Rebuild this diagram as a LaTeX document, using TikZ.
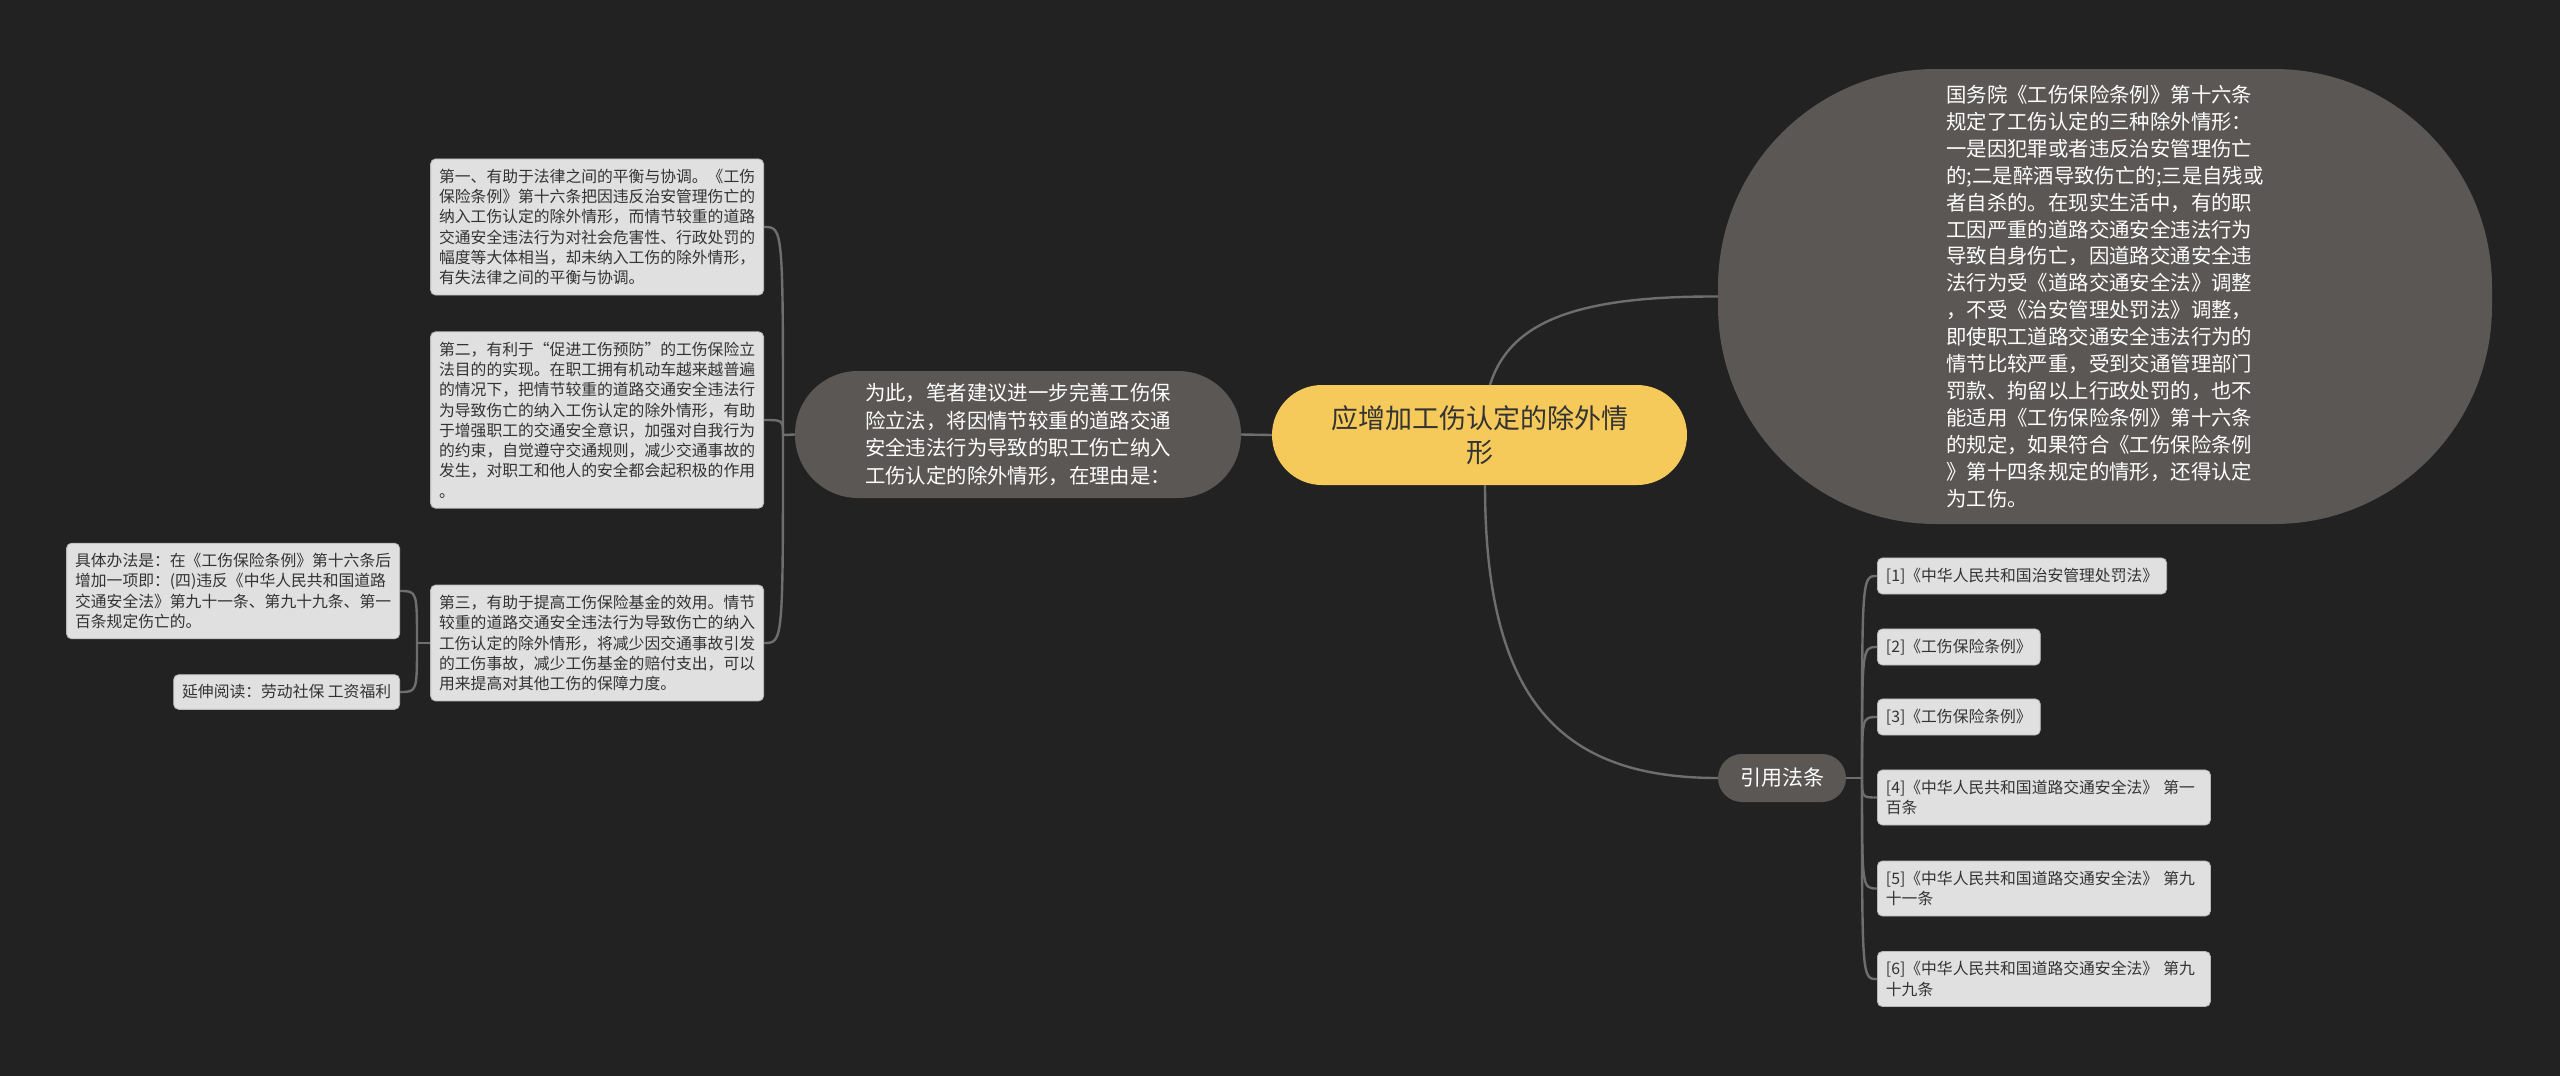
\documentclass[tikz,border=0pt]{standalone}
\usepackage{fontspec}
\setmainfont{Noto Sans CJK SC}
\definecolor{bg}{HTML}{222222}
\definecolor{hubyellow}{HTML}{F5C95A}
\definecolor{topicgray}{HTML}{5A5754}
\definecolor{leafgray}{HTML}{E0E0E0}
\definecolor{leafedge}{HTML}{B8B8B8}
\definecolor{leaftext}{HTML}{333333}
\definecolor{linegray}{HTML}{6E6E6E}
\begin{document}
\begin{tikzpicture}[x=1pt,y=-1pt,
  link/.style={draw=linegray,line width=2.4pt},
  hub/.style={fill=hubyellow,text=leaftext,align=center,minimum width=415pt,minimum height=100pt,rounded corners=50pt,font=\fontsize{27}{34}\selectfont},
  topic/.style={fill=topicgray,text=white,align=left,font=\fontsize{20.4}{27.8}\selectfont},
  leaf/.style={fill=leafgray,draw=leafedge,line width=0.8pt,rounded corners=5pt,text=leaftext,align=left,inner xsep=8.5pt,inner ysep=10pt,font=\fontsize{15.8}{20.3}\selectfont},
  wide/.style={text width=316pt}]
\fill[bg] (0,0) rectangle (2560,1076);
\useasboundingbox (0,0) rectangle (2560,1076);
\node[hub] (centre) at (1479.5,435) {应增加工伤认定的除外情\\形};
\node[topic,minimum width=446pt,minimum height=127pt,rounded corners=63pt] (reason) at (1018,434.5) {为此，笔者建议进一步完善工伤保\\险立法，将因情节较重的道路交通\\安全违法行为导致的职工伤亡纳入\\工伤认定的除外情形，在理由是：};
\node[topic,minimum width=774pt,minimum height=455pt,rounded corners=218pt,font=\fontsize{20.4}{26.9}\selectfont] (rule) at (2105,296.5) {国务院《工伤保险条例》第十六条\\规定了工伤认定的三种除外情形：\\一是因犯罪或者违反治安管理伤亡\\的;二是醉酒导致伤亡的;三是自残或\\者自杀的。在现实生活中，有的职\\工因严重的道路交通安全违法行为\\导致自身伤亡，因道路交通安全违\\法行为受《道路交通安全法》调整\\，不受《治安管理处罚法》调整，\\即使职工道路交通安全违法行为的\\情节比较严重，受到交通管理部门\\罚款、拘留以上行政处罚的，也不\\能适用《工伤保险条例》第十六条\\的规定，如果符合《工伤保险条例\\》第十四条规定的情形，还得认定\\为工伤。};
\node[topic,minimum width=128pt,minimum height=48pt,rounded corners=24pt,font=\fontsize{21}{26}\selectfont] (cite) at (1782,778) {引用法条};
\node[leaf,wide,anchor=east] (first) at (764,227) {第一、有助于法律之间的平衡与协调。《工伤\\保险条例》第十六条把因违反治安管理伤亡的\\纳入工伤认定的除外情形，而情节较重的道路\\交通安全违法行为对社会危害性、行政处罚的\\幅度等大体相当，却未纳入工伤的除外情形，\\有失法律之间的平衡与协调。};
\node[leaf,wide,anchor=east] (second) at (764,420) {第二，有利于“促进工伤预防”的工伤保险立\\法目的的实现。在职工拥有机动车越来越普遍\\的情况下，把情节较重的道路交通安全违法行\\为导致伤亡的纳入工伤认定的除外情形，有助\\于增强职工的交通安全意识，加强对自我行为\\的约束，自觉遵守交通规则，减少交通事故的\\发生，对职工和他人的安全都会起积极的作用\\。};
\node[leaf,wide,anchor=east] (third) at (764,643) {第三，有助于提高工伤保险基金的效用。情节\\较重的道路交通安全违法行为导致伤亡的纳入\\工伤认定的除外情形，将减少因交通事故引发\\的工伤事故，减少工伤基金的赔付支出，可以\\用来提高对其他工伤的保障力度。};
\node[leaf,wide,anchor=east] (method) at (400,591) {具体办法是：在《工伤保险条例》第十六条后\\增加一项即：(四)违反《中华人民共和国道路\\交通安全法》第九十一条、第九十九条、第一\\百条规定伤亡的。};
\node[leaf,anchor=east] (more) at (400,692) {延伸阅读：劳动社保 工资福利};
\node[leaf,anchor=west] (ref1) at (1877,576) {[1]《中华人民共和国治安管理处罚法》};
\node[leaf,anchor=west] (ref2) at (1877,647) {[2]《工伤保险条例》};
\node[leaf,anchor=west] (ref3) at (1877,717) {[3]《工伤保险条例》};
\node[leaf,wide,anchor=west] (ref4) at (1877,797.5) {[4]《中华人民共和国道路交通安全法》 第一\\百条};
\node[leaf,wide,anchor=west] (ref5) at (1877,888.5) {[5]《中华人民共和国道路交通安全法》 第九\\十一条};
\node[leaf,wide,anchor=west] (ref6) at (1877,979) {[6]《中华人民共和国道路交通安全法》 第九\\十九条};
\coordinate (jL) at (783,435);
\coordinate (jF) at (417,643);
\coordinate (jR) at (1862,778);
\coordinate (cTop) at (1490,385);
\coordinate (cBot) at (1485,485);
\draw[link] (centre.west) -- (reason.east);
\draw[link] (reason.west) -- (jL);
\draw[link] (jL) .. controls (jL |- first.east) .. (first.east);
\draw[link] (jL) .. controls (jL |- second.east) .. (second.east);
\draw[link] (jL) .. controls (jL |- third.east) .. (third.east);
\draw[link] (third.west) -- (jF);
\draw[link] (jF) .. controls (jF |- method.east) .. (method.east);
\draw[link] (jF) .. controls (jF |- more.east) .. (more.east);
\draw[link] (cTop) .. controls (1510,320) and (1580,296) .. (rule.west);
\draw[link] (cBot) .. controls (1485,700) and (1560,778) .. (cite.west);
\draw[link] (cite.east) -- (jR);
\foreach \r in {1,...,6}
  \draw[link] (jR) .. controls (jR |- ref\r.west) .. (ref\r.west);
\end{tikzpicture}
\end{document}
